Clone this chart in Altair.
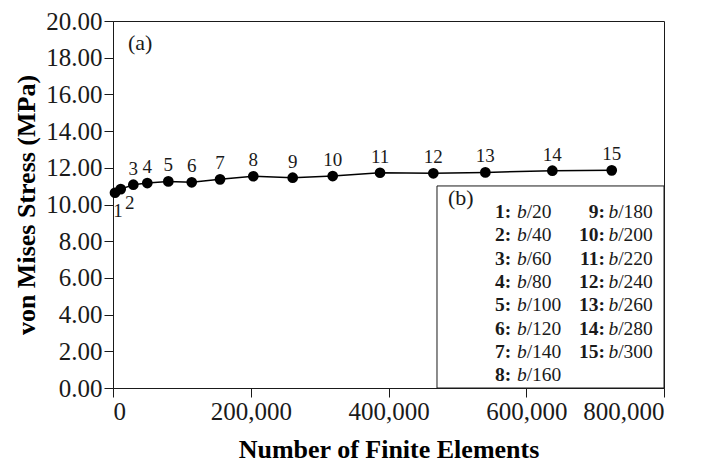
import altair as alt
import pandas as pd

# ---- data ----
mesh_id = list(range(1, 16))
n_elements = [2900, 11200, 29500, 49800, 80300, 114300, 155400, 203700,
              260900, 319000, 387700, 465100, 540600, 637900, 724100]
stress = [10.64, 10.84, 11.08, 11.17, 11.26, 11.21, 11.37, 11.54,
          11.46, 11.55, 11.73, 11.70, 11.75, 11.84, 11.86]
divisors = [20, 40, 60, 80, 100, 120, 140, 160, 180, 200, 220, 240, 260, 280, 300]

x_ticks = [0, 200000, 400000, 600000, 800000]
y_ticks = [0, 2, 4, 6, 8, 10, 12, 14, 16, 18, 20]

FONT = "Liberation Serif"
INK = "#1a1a1a"

df = pd.DataFrame({"n": n_elements, "s": stress, "id": mesh_id,
                   "label": [str(i) for i in mesh_id]})

x_enc = alt.X("n:Q", scale=alt.Scale(domain=[0, 800000], nice=False, zero=True),
              axis=alt.Axis(values=x_ticks, format=",d", title="Number of Finite Elements",
                            titlePadding=12))
y_enc = alt.Y("s:Q", scale=alt.Scale(domain=[0, 20], nice=False),
              axis=alt.Axis(values=y_ticks, format=".2f", title="von Mises Stress (MPa)",
                            titlePadding=6))

# legend box (b)
box_df = pd.DataFrame({"n": [470400], "n2": [800000], "s": [0.0], "s2": [11.01]})
box = alt.Chart(box_df).mark_rect(fill="white", stroke=INK, strokeWidth=1).encode(
    x=x_enc, x2="n2:Q", y=y_enc, y2="s2:Q")

line = alt.Chart(df).mark_line(color="black", strokeWidth=1.5).encode(x=x_enc, y=y_enc)
pts = alt.Chart(df).mark_point(filled=True, color="black", size=115, opacity=1).encode(
    x=x_enc, y=y_enc)

lbl_common = dict(font=FONT, fontSize=19, color=INK, baseline="middle", align="center")
lbl_above = alt.Chart(df).transform_filter("datum.id >= 3").mark_text(dy=-16, **lbl_common).encode(
    x=x_enc, y=y_enc, text="label:N")
lbl_1 = alt.Chart(df).transform_filter("datum.id == 1").mark_text(dx=3, dy=18, **lbl_common).encode(
    x=x_enc, y=y_enc, text="label:N")
lbl_2 = alt.Chart(df).transform_filter("datum.id == 2").mark_text(dx=9, dy=14, **lbl_common).encode(
    x=x_enc, y=y_enc, text="label:N")

# panel tags
tags_df = pd.DataFrame({"n": [21800, 486400], "s": [18.80, 10.35], "t": ["(a)", "(b)"]})
tags = alt.Chart(tags_df).mark_text(font=FONT, fontSize=22, color=INK, align="left",
                                    baseline="middle").encode(x=x_enc, y=y_enc, text="t:N")

# legend entries
row_y = [9.59, 8.32, 7.05, 5.78, 4.51, 3.24, 1.97, 0.70]
left_ids = mesh_id[:8]
right_ids = mesh_id[8:]

num_rows, b_rows, sl_rows = [], [], []
for k, i in enumerate(left_ids):
    num_rows.append({"n": 554600, "s": row_y[k], "t": f"{i}:", "side": "L"})
    b_rows.append({"n": 586600, "s": row_y[k], "t": "b"})
    sl_rows.append({"n": 600600, "s": row_y[k], "t": f"/{divisors[i-1]}"})
for k, i in enumerate(right_ids):
    num_rows.append({"n": 714300, "s": row_y[k], "t": f"{i}:", "side": "R"})
    b_rows.append({"n": 719400, "s": row_y[k], "t": "b"})
    sl_rows.append({"n": 733500, "s": row_y[k], "t": f"/{divisors[i-1]}"})

LFS = 19.5
num_df = pd.DataFrame(num_rows)
nums_L = alt.Chart(num_df).transform_filter("datum.side == 'L'").mark_text(
    font=FONT, fontSize=LFS, fontWeight="bold", color=INK, align="left", baseline="middle").encode(
    x=x_enc, y=y_enc, text="t:N")
nums_R = alt.Chart(num_df).transform_filter("datum.side == 'R'").mark_text(
    font=FONT, fontSize=LFS, fontWeight="bold", color=INK, align="right", baseline="middle").encode(
    x=x_enc, y=y_enc, text="t:N")
bs = alt.Chart(pd.DataFrame(b_rows)).mark_text(
    font=FONT, fontSize=LFS, fontStyle="italic", color=INK, align="left", baseline="middle").encode(
    x=x_enc, y=y_enc, text="t:N")
sls = alt.Chart(pd.DataFrame(sl_rows)).mark_text(
    font=FONT, fontSize=LFS, color=INK, align="left", baseline="middle").encode(
    x=x_enc, y=y_enc, text="t:N")

chart = alt.layer(box, line, pts, lbl_above, lbl_1, lbl_2, tags, nums_L, nums_R, bs, sls).properties(
    width=551, height=367,
    autosize=alt.AutoSizeParams(type="none"),
    padding={"left": 105, "top": 13, "right": 35, "bottom": 78},
    background="white",
).configure_view(stroke=INK, strokeWidth=1).configure_axis(
    grid=False, domainColor=INK, tickColor=INK, tickSize=9, labelPadding=2,
    labelFont=FONT, labelFontSize=25, labelColor=INK,
    titleFont=FONT, titleFontSize=26, titleFontWeight="bold", titleColor="black",
)

chart.save("out.html", embed_options={"renderer": "svg", "actions": False})
